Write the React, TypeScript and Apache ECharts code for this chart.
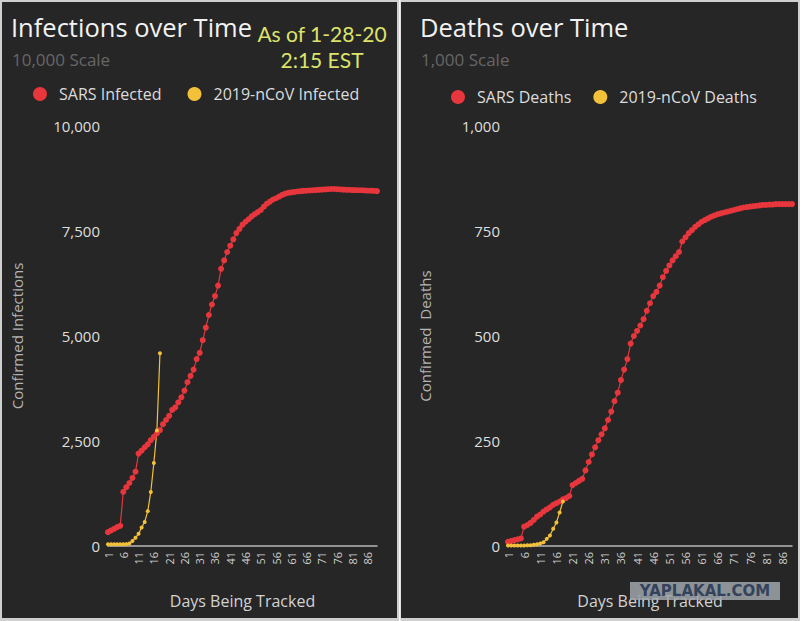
import React, { useEffect, useRef } from "react";
import * as echarts from "echarts";

const days: string[] = Array.from({ length: 89 }, (_, i) => String(i + 1));

const sarsInfected: number[] = [
  330, 370, 410, 450, 480, 1290, 1400, 1500, 1620, 1770,
  2200, 2270, 2350, 2420, 2520, 2600, 2680, 2760, 2900, 3000,
  3100, 3240, 3300, 3420, 3540, 3700, 3900, 4050, 4200, 4450,
  4600, 4900, 5200, 5500, 5750, 5950, 6200, 6600, 6800, 7000,
  7150, 7300, 7450, 7550, 7650, 7720, 7780, 7850, 7900, 7950,
  8000, 8080, 8150, 8200, 8250, 8280, 8320, 8360, 8390, 8410,
  8420, 8430, 8440, 8450, 8455, 8460, 8465, 8470, 8475, 8480,
  8485, 8490, 8495, 8500, 8500, 8495, 8490, 8485, 8480, 8480,
  8475, 8475, 8470, 8470, 8465, 8460, 8460, 8455, 8450,
];
const ncovInfected: number[] = [
  41, 41, 41, 41, 41, 41, 45, 62, 121, 198, 291, 440, 571, 830, 1287, 1975, 2750, 4590,
];
const sarsDeaths: number[] = [
  10, 12, 14, 16, 18, 46, 50, 55, 62, 70,
  75, 82, 87, 92, 98, 102, 106, 111, 114, 119,
  145, 150, 155, 160, 180, 200, 218, 235, 252, 266,
  280, 300, 320, 345, 365, 395, 420, 445, 482, 500,
  512, 525, 540, 560, 578, 595, 605, 620, 640, 655,
  668, 680, 690, 700, 725, 735, 745, 752, 760, 766,
  772, 776, 780, 784, 787, 790, 792, 794, 796, 798,
  800, 802, 804, 806, 807, 808, 809, 810, 811, 812,
  812, 813, 813, 814, 814, 814, 814, 814, 814,
];
const ncovDeaths: number[] = [1, 1, 1, 1, 1, 1, 2, 2, 3, 4, 6, 9, 17, 25, 41, 56, 80, 106];

const RED = "#e8363d";
const YELLOW = "#f3c03a";
const FONT = "'Open Sans', 'Noto Sans', sans-serif";

export default function App() {
  const ref = useRef<HTMLDivElement>(null);
  useEffect(() => {
    if (!ref.current) return;
    const chart = echarts.init(ref.current, undefined, { renderer: "svg" });
    const fmt = (v: number) => v.toLocaleString("en-US");
    const xAxisBase = (gridIndex: number) => ({
      type: "category" as const,
      gridIndex,
      data: days,
      boundaryGap: false,
      name: "Days Being Tracked",
      nameLocation: "middle" as const,
      nameGap: 47,
      nameTextStyle: { color: "#d2d2d2", fontSize: 16, fontFamily: FONT },
      axisLine: { lineStyle: { color: "#b8b8b8", width: 1.5 } },
      axisTick: { show: false },
      axisLabel: { interval: 4, rotate: 90, color: "#cfcfcf", fontSize: 11, margin: 6, fontFamily: FONT },
      splitLine: { show: false },
    });
    const yAxisBase = (gridIndex: number, max: number, interval: number, name: string, nameGap: number) => ({
      type: "value" as const,
      gridIndex,
      min: 0,
      max,
      interval,
      name,
      nameLocation: "middle" as const,
      nameRotate: 90,
      nameGap,
      nameTextStyle: { color: "#b4b4b4", fontSize: 15, fontFamily: FONT },
      axisLine: { show: false },
      axisTick: { show: false },
      splitLine: { show: false },
      axisLabel: { color: "#dedede", fontSize: 15, margin: 8, fontFamily: FONT, formatter: fmt },
    });
    const lineSeries = (name: string, data: number[], color: string, idx: number, size: number) => ({
      type: "line" as const,
      name,
      data,
      xAxisIndex: idx,
      yAxisIndex: idx,
      symbol: "circle",
      symbolSize: size,
      showSymbol: true,
      showAllSymbol: true,
      itemStyle: { color },
      lineStyle: { color, width: 1.2 },
    });
    chart.setOption({
      animation: false,
      backgroundColor: "#cfcfcf",
      textStyle: { fontFamily: FONT },
      graphic: [
        { type: "rect", shape: { x: 2, y: 2, width: 395, height: 616 }, style: { fill: "#262626" }, z: -10 },
        { type: "rect", shape: { x: 401, y: 2, width: 397, height: 616 }, style: { fill: "#262626" }, z: -10 },
        { type: "rect", shape: { x: 399, y: 0, width: 1.5, height: 621 }, style: { fill: "#f4f4f4" }, z: -9 },
        { type: "text", x: 11, y: 14, style: { text: "Infections over Time", fill: "#f2f2f2", fontSize: 25.5, fontFamily: FONT } },
        { type: "text", x: 420, y: 14, style: { text: "Deaths over Time", fill: "#f2f2f2", fontSize: 25.5, fontFamily: FONT } },
        { type: "text", x: 12, y: 51, style: { text: "10,000 Scale", fill: "#666666", fontSize: 17, fontFamily: FONT } },
        { type: "text", x: 421, y: 51, style: { text: "1,000 Scale", fill: "#666666", fontSize: 17, fontFamily: FONT } },
        {
          type: "text", x: 322, y: 46,
          style: { text: "As of 1-28-20\n2:15 EST", fill: "#dde36a", fontSize: 21, lineHeight: 26, fontFamily: "Lato, sans-serif", align: "center", verticalAlign: "middle" },
        },
        { type: "rect", z: 100, shape: { x: 630, y: 582, width: 150, height: 18 }, style: { fill: "rgba(160,166,172,0.85)" } },
        {
          type: "text", z: 101, x: 705, y: 591,
          style: { text: "YAPLAKAL.COM", fill: "#34435c", fontSize: 15, fontWeight: "bold", fontFamily: "'DejaVu Sans', sans-serif", align: "center", verticalAlign: "middle" },
        },
      ],
      legend: [
        {
          left: 33, top: 86, padding: 0, itemWidth: 14, itemHeight: 14, icon: "circle", itemGap: 26,
          data: ["SARS Infected", "2019-nCoV Infected"],
          textStyle: { color: "#dcdcdc", fontSize: 16, fontFamily: FONT, padding: [0, 0, 0, 7] },
        },
        {
          left: 451, top: 89, padding: 0, itemWidth: 14, itemHeight: 14, icon: "circle", itemGap: 22,
          data: ["SARS Deaths", "2019-nCoV Deaths"],
          textStyle: { color: "#dcdcdc", fontSize: 16, fontFamily: FONT, padding: [0, 0, 0, 7] },
        },
      ],
      grid: [
        { left: 108, right: 423, top: 126, bottom: 75 },
        { left: 508, right: 8, top: 126, bottom: 75 },
      ],
      xAxis: [xAxisBase(0), xAxisBase(1)],
      yAxis: [
        yAxisBase(0, 10000, 2500, "Confirmed Infections", 84),
        yAxisBase(1, 1000, 250, "Confirmed  Deaths", 76),
      ],
      series: [
        lineSeries("SARS Infected", sarsInfected, RED, 0, 6),
        lineSeries("2019-nCoV Infected", ncovInfected, YELLOW, 0, 4),
        lineSeries("SARS Deaths", sarsDeaths, RED, 1, 6),
        lineSeries("2019-nCoV Deaths", ncovDeaths, YELLOW, 1, 4),
      ],
    });
    return () => chart.dispose();
  }, []);
  return (
    <div
      ref={ref}
      style={{ position: "fixed", left: 0, top: 0, width: 800, height: 621 }}
    />
  );
}
